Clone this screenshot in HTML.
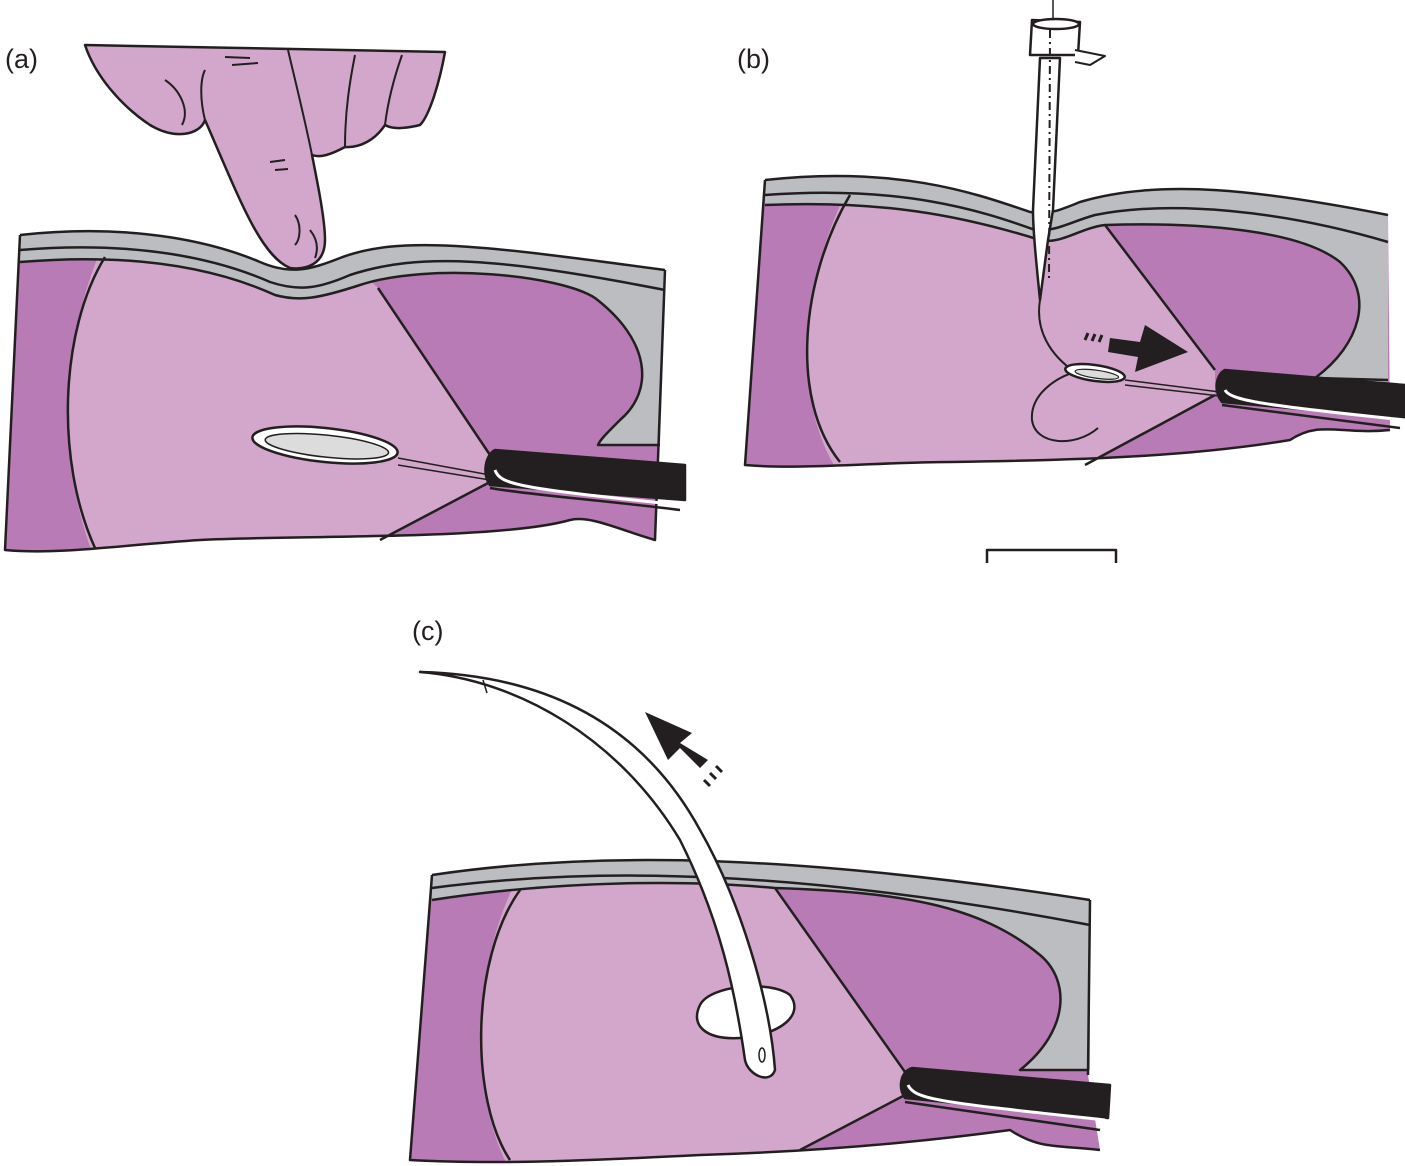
<!DOCTYPE html>
<html><head><style>body{margin:0;background:#fff}svg{display:block}text{font-family:"Liberation Sans",sans-serif;font-size:27px}</style></head><body>
<svg width="1405" height="1166" viewBox="0 0 1405 1166" xmlns="http://www.w3.org/2000/svg" stroke="#231f20" stroke-width="2.5" stroke-linejoin="round">
<defs>
<clipPath id="ca"><path d="M20,235 C140,222 220,245 260,262 C290,275 310,270 340,258 C400,235 480,245 665,270 L655,540 C620,530 590,515 570,520 C500,540 300,535 200,540 C120,545 60,555 5,550 Z"/></clipPath>
<clipPath id="cb"><path d="M765,180 C900,165 980,195 1030,212 C1050,215 1060,210 1080,202 C1160,178 1260,190 1388,215 L1390,430 C1340,435 1320,420 1290,440 C1200,455 1100,460 950,462 C880,462 800,470 745,465 Z"/></clipPath>
<clipPath id="cc"><path d="M432,875 C600,850 800,855 1090,900 L1088,1075 L1100,1150 C1060,1145 1040,1150 1010,1130 C900,1145 800,1152 700,1155 C600,1160 500,1165 410,1160 Z"/></clipPath>
</defs>
<text x="5" y="68" stroke="none" fill="#231f20">(a)</text>
<text x="737" y="68" stroke="none" fill="#231f20">(b)</text>
<text x="412" y="640" stroke="none" fill="#231f20">(c)</text>

<!-- PANEL A -->
<g>
<path d="M20,235 C140,222 220,245 260,262 C290,275 310,270 340,258 C400,235 480,245 665,270 L655,540 C620,530 590,515 570,520 C500,540 300,535 200,540 C120,545 60,555 5,550 Z" fill="#b87bb5" stroke="none"/>
<path clip-path="url(#ca)" d="M110,230 C60,330 55,460 95,560 L380,560 L380,540 L490,482 L490,455 L378,288 L340,250 C310,270 290,275 260,250 C220,235 160,230 110,230 Z" fill="#d3a7cb" stroke="none"/>
<path d="M20,235 C140,222 220,245 260,262 C290,275 310,270 340,258 C400,235 480,245 665,270 L665,300 L660,445 L598,445 C600,440 605,435 620,420 C655,390 650,340 595,298 C560,275 430,262 360,285 C320,298 300,302 275,295 C220,270 140,252 20,262 Z" fill="#bcbdc0" stroke="none"/>
<path d="M20,235 C140,222 220,245 260,262 C290,275 310,270 340,258 C400,235 480,245 665,270" fill="none"/>
<path d="M20,250 C140,240 220,260 270,282 C300,292 320,288 350,275 C420,252 500,258 665,290" fill="none"/>
<path d="M20,262 C140,252 220,270 275,295 C300,302 320,298 360,285 C430,262 560,275 595,298 C650,340 655,390 620,420 C605,435 600,440 598,445 L660,445" fill="none"/>
<path d="M20,235 L5,550 C60,555 120,545 200,540 C300,535 500,540 570,520 C590,515 620,530 655,540 L665,270" fill="none"/>
<path d="M105,257 C60,330 55,460 95,548" fill="none"/>
<path d="M378,288 L490,455 M380,540 L490,482" fill="none"/>
<ellipse cx="325" cy="445" rx="73" ry="17" transform="rotate(6 325 445)" fill="#fff"/>
<ellipse cx="327" cy="446" rx="62" ry="11" transform="rotate(6 325 445)" fill="#dcdcdc" stroke-width="1.5"/>
<path d="M398,458 L490,475 M398,465 L490,480" fill="none" stroke-width="1.5"/>
<path d="M495,450 L685,465 L685,500 L490,485 C482,475 485,455 495,450 Z" fill="#231f20"/>
<path d="M495,470 C500,485 520,488 680,505" fill="none" stroke="#fff" stroke-width="3"/>
<path d="M490,488 C530,495 600,500 680,510" fill="none" stroke-width="2.5"/>
<!-- finger -->
<path d="M85,45 L445,52 C440,80 430,115 420,125 C400,130 390,128 385,125 C375,140 360,148 345,147 C330,155 320,158 312,155 C318,185 325,220 325,240 C325,265 305,270 290,268 C260,255 240,200 205,120 C200,135 175,140 150,125 C120,105 95,75 85,45 Z" fill="#d3a7cb"/>
<path d="M205,120 C200,100 200,80 205,70 M312,155 C305,120 295,80 288,50 M345,147 C345,110 350,80 355,55 M385,125 C388,100 395,75 402,55 M165,80 C180,90 190,110 182,125 M225,57 L250,58 M232,65 L258,63 M270,162 L285,160 M275,170 L288,169 M295,215 C302,225 300,240 295,245 M310,230 C318,240 318,250 315,258" fill="none" stroke-width="2"/>
</g>

<!-- PANEL B -->
<g>
<path d="M765,180 C900,165 980,195 1030,212 C1050,215 1060,210 1080,202 C1160,178 1260,190 1388,215 L1390,430 C1340,435 1320,420 1290,440 C1200,455 1100,460 950,462 C880,462 800,470 745,465 Z" fill="#b87bb5" stroke="none"/>
<path clip-path="url(#cb)" d="M852,180 C800,280 790,400 840,475 L1085,475 L1085,465 L1215,395 L1215,370 L1105,225 L1080,195 C1060,210 1050,215 1030,205 C980,190 900,178 852,180 Z" fill="#d3a7cb" stroke="none"/>
<path d="M765,180 C900,165 980,195 1030,212 C1050,215 1060,210 1080,202 C1160,178 1260,190 1388,215 L1388,382 L1315,378 C1360,345 1375,295 1340,262 C1300,230 1200,222 1105,225 C1080,228 1060,245 1040,240 C960,215 880,200 765,205 Z" fill="#bcbdc0" stroke="none"/>
<path d="M765,180 C900,165 980,195 1030,212 C1050,215 1060,210 1080,202 C1160,178 1260,190 1388,215" fill="none"/>
<path d="M765,195 C900,185 980,210 1035,230 C1055,232 1070,222 1095,215 C1170,200 1280,210 1388,242" fill="none"/>
<path d="M765,205 C880,200 960,215 1040,240 C1060,245 1080,228 1105,225 C1200,222 1300,230 1340,262 C1375,295 1360,345 1315,378 L1388,380" fill="none"/>
<path d="M765,180 L745,465 C800,470 880,462 950,462 C1100,460 1200,455 1290,440 C1320,420 1340,435 1390,430" fill="none"/>
<path d="M850,195 C800,280 790,400 840,462" fill="none"/>
<path d="M1105,225 L1215,370 M1085,465 L1215,395" fill="none"/>
<path d="M1040,300 C1035,330 1050,355 1075,372 C1055,378 1030,395 1032,420 C1035,445 1075,448 1098,428" fill="none" stroke-width="2"/>
<!-- scalpel -->
<path d="M1040,58 L1060,58 L1053,210 L1048,240 L1040,300 C1036,260 1033,230 1033,210 Z" fill="#fff"/>
<path d="M1032,20 L1080,22 L1078,55 L1030,55 Z" fill="#fff"/>
<ellipse cx="1056" cy="24" rx="23" ry="5" fill="#fff"/>
<path d="M1075,50 L1105,56 L1090,65 L1075,62" fill="#fff" stroke-width="2"/>
<path d="M1053,0 L1053,20" fill="none" stroke-width="1.5"/>
<path d="M1050,30 L1049,280" fill="none" stroke-width="2" stroke-dasharray="8,4,2,4"/>
<!-- arrow & loop -->
<path d="M1085,340 L1088,333 M1092,341 L1095,334 M1099,342 L1102,335" stroke-width="3"/>
<path d="M1110,338 L1140,342 L1145,325 L1188,352 L1135,372 L1138,357 L1108,352 Z" fill="#231f20" stroke="none"/>
<ellipse cx="1095" cy="373" rx="30" ry="8" transform="rotate(8 1095 373)" fill="#fff"/>
<ellipse cx="1097" cy="374" rx="22" ry="4" transform="rotate(8 1095 373)" fill="#dcdcdc" stroke-width="1.2"/>
<path d="M1125,380 L1220,392 M1125,385 L1220,396" fill="none" stroke-width="1.5"/>
<path d="M1225,370 L1405,385 L1405,418 L1222,402 C1214,392 1215,375 1225,370 Z" fill="#231f20"/>
<path d="M1225,390 C1230,400 1260,405 1405,420" fill="none" stroke="#fff" stroke-width="3"/>
<path d="M1222,405 C1280,412 1340,420 1400,428" fill="none"/>
<!-- scale bar -->
<path d="M987,563 L987,550 L1116,550 L1116,563" fill="none"/>
</g>

<!-- PANEL C -->
<g>
<path d="M432,875 C600,850 800,855 1090,900 L1088,1075 L1100,1150 C1060,1145 1040,1150 1010,1130 C900,1145 800,1152 700,1155 C600,1160 500,1165 410,1160 Z" fill="#b87bb5" stroke="none"/>
<path clip-path="url(#cc)" d="M522,870 C470,960 470,1100 510,1170 L800,1170 L800,1150 L905,1095 L905,1072 L775,888 L775,870 C690,862 600,862 522,870 Z" fill="#d3a7cb" stroke="none"/>
<path d="M432,875 C600,850 800,855 1090,900 L1090,1070 L1020,1070 C1070,1030 1070,980 1040,955 C980,905 900,892 775,888 C690,880 560,880 432,900 Z" fill="#bcbdc0" stroke="none"/>
<path d="M432,875 C600,850 800,855 1090,900" fill="none"/>
<path d="M432,888 C600,866 800,870 1090,925" fill="none"/>
<path d="M432,900 C560,880 690,880 775,888 C900,892 980,905 1040,955 C1070,980 1070,1030 1020,1070 L1088,1070" fill="none"/>
<path d="M432,875 L410,1160 C500,1165 600,1160 700,1155 C800,1152 900,1145 1010,1130 C1040,1150 1060,1145 1100,1150" fill="none"/>
<path d="M1090,900 L1088,1075" fill="none"/>
<path d="M520,890 C470,960 470,1100 510,1160" fill="none"/>
<path d="M775,888 L905,1072 M800,1150 L905,1095" fill="none"/>
<path d="M700,1005 C710,985 770,980 790,995 C805,1015 780,1035 740,1038 C705,1040 690,1025 700,1005 Z" fill="#fff"/>
<!-- catheter -->
<path d="M420,672 C520,680 620,740 680,840 C720,920 735,990 745,1060 C748,1075 770,1085 775,1070 C770,1000 740,900 700,830 C640,720 540,675 420,672 Z" fill="#fff"/>
<path d="M483,680 L487,693" fill="none" stroke-width="1.5"/>
<ellipse cx="762" cy="1055" rx="3" ry="7" fill="#fff" stroke-width="1.5"/>
<!-- arrow -->
<path d="M722,772 L716,766 M716,779 L710,773 M710,786 L704,780" stroke-width="3"/>
<path d="M700,768 L680,748 L668,760 L645,712 L692,733 L680,743 L708,760 Z" fill="#231f20" stroke="none"/>
<!-- handle -->
<path d="M912,1068 L1110,1085 L1108,1118 L905,1098 C898,1088 900,1072 912,1068 Z" fill="#231f20"/>
<path d="M908,1085 C915,1100 940,1102 1105,1120" fill="none" stroke="#fff" stroke-width="3"/>
<path d="M905,1102 C960,1110 1030,1120 1100,1130" fill="none"/>
</g>
</svg>
</body></html>
